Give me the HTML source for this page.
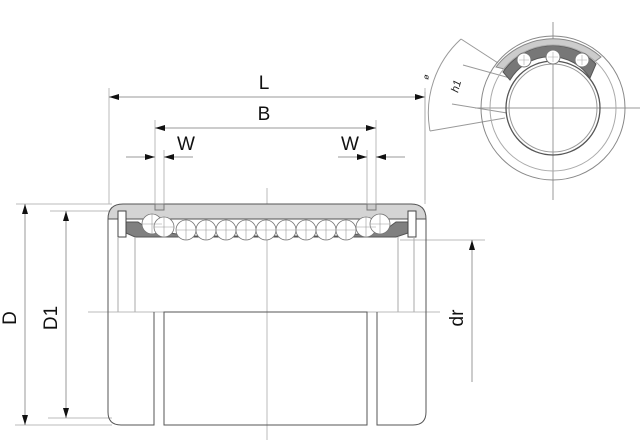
<!DOCTYPE html>
<html><head><meta charset="utf-8"><style>html,body{margin:0;padding:0;background:#fff}svg{display:block}</style></head>
<body>
<svg width="640" height="440" viewBox="0 0 640 440" xmlns="http://www.w3.org/2000/svg" font-family="Liberation Sans, Arial, sans-serif">
<defs>
<marker id="a" viewBox="0 0 10 6" refX="10" refY="3" markerWidth="10" markerHeight="6" orient="auto-start-reverse" markerUnits="userSpaceOnUse"><path d="M0,0L10,3L0,6z" fill="#111"/></marker>
</defs>
<g stroke="#bbb" stroke-width="1" fill="none">
<line x1="109" y1="88" x2="109" y2="204"/>
<line x1="425" y1="88" x2="425" y2="204"/>
<line x1="155" y1="120" x2="155" y2="210"/>
<line x1="376" y1="120" x2="376" y2="210"/>
<line x1="164" y1="150" x2="164" y2="210"/>
<line x1="367" y1="150" x2="367" y2="210"/>
<line x1="16" y1="204" x2="112" y2="204"/>
<line x1="15" y1="425" x2="112" y2="425"/>
<line x1="50" y1="211" x2="112" y2="211"/>
<line x1="48" y1="418" x2="112" y2="418"/>
<line x1="400" y1="240" x2="485" y2="240"/>
<line x1="88" y1="312" x2="440" y2="312"/>
<line x1="267" y1="188" x2="267" y2="440"/>
<line x1="109" y1="97" x2="425" y2="97" marker-start="url(#a)" marker-end="url(#a)" stroke="#999"/>
<line x1="155" y1="128" x2="376" y2="128" marker-start="url(#a)" marker-end="url(#a)" stroke="#999"/>
<line x1="126" y1="157" x2="155" y2="157" marker-end="url(#a)" stroke="#999"/>
<line x1="193" y1="157" x2="164" y2="157" marker-end="url(#a)" stroke="#999"/>
<line x1="338" y1="157" x2="367" y2="157" marker-end="url(#a)" stroke="#999"/>
<line x1="405" y1="157" x2="376" y2="157" marker-end="url(#a)" stroke="#999"/>
<line x1="25" y1="204" x2="25" y2="425" marker-start="url(#a)" marker-end="url(#a)" stroke="#999"/>
<line x1="66" y1="211" x2="66" y2="418" marker-start="url(#a)" marker-end="url(#a)" stroke="#999"/>
<line x1="472" y1="240" x2="472" y2="382" marker-start="url(#a)" stroke="#999"/>
</g>
<path d="M108,219 Q108,204 123,204 L411,204 Q426,204 426,219 Z" fill="#d4d4d4" stroke="#555"/>
<rect x="155" y="204" width="9" height="6" fill="#ccc" stroke="#777"/>
<rect x="367" y="204" width="9" height="6" fill="#ccc" stroke="#777"/>
<path d="M126,222 L138,222 L150,230 L190,236 L345,236 L385,230 L396,222 L408,222 L408,233 L396,237 L135,237 L126,233 Z" fill="#808080" stroke="#555"/>
<rect x="118" y="211" width="8" height="26" fill="#fff" stroke="#444"/>
<rect x="408" y="211" width="8" height="26" fill="#fff" stroke="#444"/>
<path d="M108,219 L108,412 Q108,425 121,425 L154,425 L154,312" fill="none" stroke="#555"/>
<path d="M426,219 L426,412 Q426,425 413,425 L377,425 L377,312" fill="none" stroke="#555"/>
<rect x="164" y="312" width="203" height="113" fill="none" stroke="#555"/>
<g stroke="#aaa" fill="none">
<line x1="118" y1="237" x2="118" y2="312"/><line x1="135" y1="237" x2="135" y2="312"/>
<line x1="398" y1="237" x2="398" y2="312"/><line x1="414" y1="237" x2="414" y2="312"/>
</g>
<g stroke="#777" fill="#fff" stroke-width="0.8">
<circle cx="152" cy="224" r="10"/><circle cx="164" cy="227" r="10"/>
<circle cx="186" cy="230" r="10"/><circle cx="206" cy="230" r="10"/><circle cx="226" cy="230" r="10"/>
<circle cx="246" cy="230" r="10"/><circle cx="266" cy="230" r="10"/><circle cx="286" cy="230" r="10"/>
<circle cx="306" cy="230" r="10"/><circle cx="326" cy="230" r="10"/><circle cx="346" cy="230" r="10"/>
<circle cx="366" cy="227" r="10"/><circle cx="380" cy="224" r="10"/>
</g>
<g stroke="#999" stroke-width="0.6">
<path d="M142,224h20M152,214v20M154,227h20M164,217v20M176,230h20M186,220v20M196,230h20M206,220v20M216,230h20M226,220v20M236,230h20M246,220v20M256,230h20M266,220v20M276,230h20M286,220v20M296,230h20M306,220v20M316,230h20M326,220v20M336,230h20M346,220v20M356,227h20M366,217v20M370,224h20M380,214v20"/>
</g>
<g font-size="19" fill="#111">
<text x="264" y="89" text-anchor="middle">L</text>
<text x="264" y="120" text-anchor="middle">B</text>
<text x="186" y="150" text-anchor="middle">W</text>
<text x="350" y="150" text-anchor="middle">W</text>
<text transform="translate(16,318) rotate(-90)" text-anchor="middle">D</text>
<text transform="translate(57,318) rotate(-90)" text-anchor="middle">D1</text>
<text transform="translate(463,318) rotate(-90)" text-anchor="middle">dr</text>
</g>
<g fill="none" stroke="#999">
<line x1="553" y1="22" x2="553" y2="200"/>
<line x1="475" y1="108" x2="640" y2="108"/>
<path d="M461,39 A100,100 0 0,0 430,131" />
<line x1="461" y1="39" x2="498" y2="63"/>
<line x1="430" y1="131" x2="505" y2="118"/>
<line x1="463" y1="65" x2="510" y2="78"/>
<line x1="452" y1="104" x2="507" y2="113"/>
<line x1="425" y1="92" x2="425" y2="200" stroke="#aaa"/>
</g>
<path d="M496,67 A72,72 0 0,1 601,57 L593,63 A62,62 0 0,0 508,70 Z" fill="#ccc" stroke="#888"/>
<path d="M503,72 A60,60 0 0,1 596,64 L590,78 A47,47 0 0,0 510,80 Z" fill="#777" stroke="#555"/>
<circle cx="553" cy="108" r="72" fill="none" stroke="#888"/>
<circle cx="553" cy="108" r="63" fill="none" stroke="#aaa"/>
<circle cx="553" cy="108" r="47" fill="none" stroke="#555" stroke-width="1.3"/>
<circle cx="553" cy="108" r="44" fill="none" stroke="#999"/>
<g fill="#fff" stroke="#777"><circle cx="524" cy="60" r="7"/><circle cx="553" cy="57" r="7"/><circle cx="582" cy="60" r="7"/></g>
<g stroke="#aaa" stroke-width="0.6"><path d="M519,60h10M524,55v10M548,57h10M553,52v10M577,60h10M582,55v10"/></g>
<g font-size="11" font-style="italic" fill="#222">
<text transform="translate(458,93) rotate(-75)">h1</text>
<text transform="translate(428,80) rotate(-75)" font-size="8">ø</text>
</g>
</svg>
</body></html>
